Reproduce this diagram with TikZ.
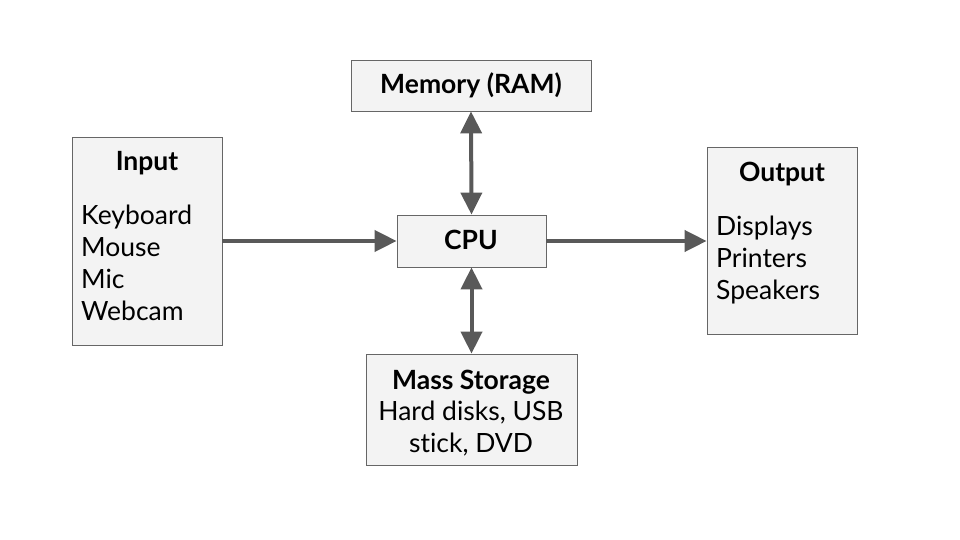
\documentclass[tikz,border=0pt]{standalone}
\usepackage{fontspec}
\setmainfont{Lato}[Ligatures=NoCommon]
\usetikzlibrary{arrows.meta}
\definecolor{boxfill}{HTML}{F3F3F3}
\definecolor{boxline}{HTML}{666666}
\definecolor{wire}{HTML}{595959}
\begin{document}
\begin{tikzpicture}[x=1pt,y=-1pt,
  unit/.style={draw=boxline,fill=boxfill,line width=0.8pt,inner sep=0pt},
  lbl/.style={font=\fontsize{26.5}{32}\selectfont,inner sep=0pt},
  ttl/.style={lbl,font=\fontsize{26.5}{32}\selectfont\bfseries},
  flow/.style={draw=wire,line width=4pt,-{Triangle[length=22pt,width=21pt]}},
  duplex/.style={draw=wire,line width=4pt,{Triangle[length=22pt,width=21pt]}-{Triangle[length=22pt,width=21pt]}}]
\useasboundingbox (0,0) rectangle (960,540);

% blocks
\node[unit,minimum width=240pt,minimum height=51pt] (ram) at (471,85.5) {};
\node[unit,minimum width=150pt,minimum height=208pt] (in) at (147,241) {};
\node[unit,minimum width=149pt,minimum height=52pt] (cpu) at (471.5,241) {};
\node[unit,minimum width=150pt,minimum height=187pt] (out) at (782,240.5) {};
\node[unit,minimum width=211pt,minimum height=111pt] (ms) at (471.5,409.5) {};

% texts
\node[ttl,anchor=base] (ramt) at (471,94) {Memory (RAM)};
\node[ttl,anchor=base] (cput) at (471,249) {CPU};

\node[ttl,anchor=base] (int) at (147,171) {Input};
\node[lbl,anchor=base west] (in1) at (81,224.5) {Keyboard};
\node[lbl,anchor=base west] (in2) at (81,256.5) {Mouse};
\node[lbl,anchor=base west] (in3) at (81,288.5) {Mic};
\node[lbl,anchor=base west] (in4) at (81,320.5) {Webcam};

\node[ttl,anchor=base] (outt) at (782,182) {Output};
\node[lbl,anchor=base west] (out1) at (716,235.5) {Displays};
\node[lbl,anchor=base west] (out2) at (716,267.5) {Printers};
\node[lbl,anchor=base west] (out3) at (716,299.5) {Speakers};

\node[ttl,anchor=base] (mst) at (471,389) {Mass Storage};
\node[lbl,anchor=base] (ms1) at (471,420) {Hard disks, USB};
\node[lbl,anchor=base] (ms2) at (471,452) {stick, DVD};

% connectors
\draw[flow] (in.east |- cpu) -- (cpu.west);
\draw[flow] (cpu.east) -- (out.west |- cpu);
\draw[duplex] (ram.south) -- (cpu.north);
\draw[duplex] (cpu.south) -- (ms.north);
\end{tikzpicture}
\end{document}
